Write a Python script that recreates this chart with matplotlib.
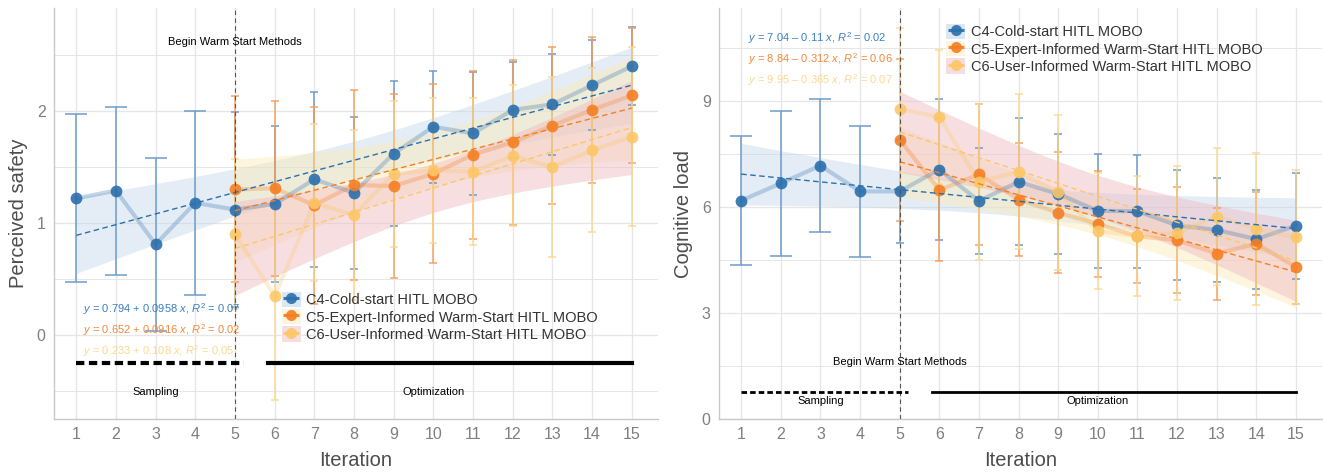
import numpy as np
import matplotlib
matplotlib.use("Agg")
import matplotlib.pyplot as plt
from matplotlib.lines import Line2D
from matplotlib.patches import Patch

plt.rcParams['font.family'] = ['Liberation Sans', 'DejaVu Sans']
plt.rcParams['mathtext.fontset'] = 'custom'
plt.rcParams['mathtext.rm'] = 'Liberation Sans'
plt.rcParams['mathtext.it'] = 'Liberation Sans:italic'

# ---------------- data ----------------
iterations = list(range(1, 16))
series_names = ["C4-Cold-start HITL MOBO",
                "C5-Expert-Informed Warm-Start HITL MOBO",
                "C6-User-Informed Warm-Start HITL MOBO"]

# Perceived safety (means and SD), C5/C6 start at iteration 5
ps_c4_mean = [1.22, 1.29, 0.81, 1.18, 1.12, 1.17, 1.39, 1.27, 1.62, 1.86, 1.80, 2.01, 2.06, 2.23, 2.40]
ps_c4_sd = [0.75, 0.75, 0.77, 0.82, 0.87, 0.70, 0.78, 0.68, 0.65, 0.50, 0.55, 0.43, 0.45, 0.40, 0.35]
ps_c5_mean = [1.30, 1.31, 1.16, 1.34, 1.33, 1.44, 1.61, 1.72, 1.87, 2.01, 2.14]
ps_c5_sd = [0.83, 0.78, 0.88, 0.85, 0.82, 0.80, 0.75, 0.74, 0.70, 0.65, 0.60]
ps_c6_mean = [0.90, 0.35, 1.18, 1.07, 1.44, 1.47, 1.46, 1.60, 1.50, 1.65, 1.77]
ps_c6_sd = [0.67, 0.93, 0.70, 0.76, 0.65, 0.65, 0.66, 0.63, 0.80, 0.73, 0.80]

# Cognitive load
cl_c4_mean = [6.18, 6.67, 7.17, 6.44, 6.44, 7.06, 6.17, 6.71, 6.37, 5.89, 5.88, 5.48, 5.35, 5.09, 5.47]
cl_c4_sd = [1.83, 2.05, 1.88, 1.85, 1.45, 2.00, 1.50, 1.80, 1.70, 1.62, 1.60, 1.56, 1.47, 1.40, 1.50]
cl_c5_mean = [7.90, 6.48, 6.92, 6.21, 5.84, 5.52, 5.17, 5.06, 4.68, 4.96, 4.30]
cl_c5_sd = [2.30, 2.00, 2.00, 1.60, 1.72, 1.50, 1.33, 1.50, 1.30, 1.45, 1.06]
cl_c6_mean = [8.77, 8.55, 6.71, 7.00, 6.41, 5.32, 5.18, 5.27, 5.73, 5.38, 5.15]
cl_c6_sd = [2.28, 1.90, 2.20, 2.20, 2.20, 1.64, 1.70, 1.90, 1.95, 2.15, 1.90]

# regression fits (intercept, slope, R2) and CI half-widths (centre, ends)
ps_fit = [(0.794, 0.0958, 0.07), (0.652, 0.0916, 0.02), (0.233, 0.108, 0.05)]
cl_fit = [(7.04, -0.11, 0.02), (8.84, -0.312, 0.06), (9.95, -0.365, 0.07)]
ps_ci_mid = [0.17, 0.24, 0.22]
ps_ci_end = [0.34, 0.46, 0.42]
cl_ci_mid = [0.42, 0.50, 0.60]
cl_ci_end = [0.87, 1.00, 1.15]

# ---------------- style ----------------
point_colors = ['#2b6fad', '#f57f23', '#fcc767']
bar_colors = ['#6f9dc9', '#f59a55', '#fcd68c']
band_colors = ['#c4d8ec', '#fbeab5', '#efbcc2']
band_alpha = [0.45, 0.45, 0.48]
legend_bg = ['#dbe7f3', '#fdf5e0', '#f6dde0']
eq_colors = ['#3b7fc0', '#f5873a', '#fbd88e']
grid_c = '#e6e6e6'

fig = plt.figure(figsize=(13.23, 4.74), dpi=100)
axL = fig.add_axes([54 / 1323, 1 - 419 / 474, 604 / 1323, 411 / 474])
axR = fig.add_axes([719 / 1323, 1 - 419 / 474, 603 / 1323, 411 / 474])


def fmt(v):
    return ('%g' % v)


def draw_panel(ax, means, sds, fits, ci_mid, ci_end, ylim, yticks, yminor, ylabel,
               eq_y, bar_y, text_y, begin_y, bar_lw, legend_xy):
    x_all = np.array(iterations)
    xs = [x_all, x_all[4:], x_all[4:]]
    ax.set_xlim(0.44, 15.66)
    ax.set_ylim(*ylim)
    ax.set_xticks(iterations)
    ax.set_yticks(yticks)
    ax.set_yticks(yminor, minor=True)
    ax.grid(True, which='major', color=grid_c, lw=0.9, zorder=0)
    ax.grid(True, which='minor', axis='y', color=grid_c, lw=0.7, zorder=0)
    ax.set_axisbelow(True)
    for s in ['top', 'right']:
        ax.spines[s].set_visible(False)
    for s in ['left', 'bottom']:
        ax.spines[s].set_color('#c8c8c8')
        ax.spines[s].set_linewidth(1.0)
    ax.tick_params(which='both', length=0, labelsize=11.5, colors='#7f7f7f', pad=6)
    ax.set_xlabel('Iteration', fontsize=14.5, color='#4d4d4d', labelpad=6)
    ax.set_ylabel(ylabel, fontsize=14.5, color='#4d4d4d', labelpad=6)

    # confidence bands
    for i in range(3):
        x = xs[i]
        a, b, r2 = fits[i]
        xfine = np.linspace(x[0], x[-1], 100)
        xc = (x[0] + x[-1]) / 2
        half = (x[-1] - x[0]) / 2
        hw = np.sqrt(ci_mid[i] ** 2 + (ci_end[i] ** 2 - ci_mid[i] ** 2) * ((xfine - xc) / half) ** 2)
        yfit = a + b * xfine
        ax.fill_between(xfine, yfit - hw, yfit + hw, color=band_colors[i], alpha=band_alpha[i],
                        lw=0, zorder=1)

    # error bars
    for i in range(3):
        x = xs[i]
        m = np.array(means[i])
        sd = np.array(sds[i])
        for j in range(len(x)):
            cap = 8 if (i == 0 and x[j] <= 4) else 3
            ax.errorbar(x[j], m[j], yerr=sd[j], color=bar_colors[i], alpha=0.75 if i else 0.85,
                        lw=1.3, capsize=cap, capthick=1.3, zorder=3, fmt='none')
    # connecting lines
    for i in range(3):
        ax.plot(xs[i], means[i], color=point_colors[i], lw=3, alpha=0.28, zorder=4,
                solid_capstyle='round')
    # points
    for i in range(3):
        ax.plot(xs[i], means[i], 'o', color=point_colors[i], ms=8.5, alpha=0.9, mec='none',
                zorder=5)
    # regression lines
    for i in range(3):
        a, b, r2 = fits[i]
        x = xs[i]
        ax.plot([x[0], x[-1]], [a + b * x[0], a + b * x[-1]], color=point_colors[i], lw=1.0,
                ls=(0, (4, 2.5)), zorder=6)
        sign = '+' if b >= 0 else '\u2013'
        eq = r'$y$ = %s %s %s $x$, $R^2$ = %s' % (fmt(a), sign, fmt(abs(b)), '%.2f' % r2)
        ax.text(1.18, eq_y[i], eq, color=eq_colors[i], fontsize=8, ha='left', va='center',
                zorder=7)

    # warm-start marker
    ax.axvline(5, color='#555555', lw=0.8, ls=(0, (4, 3)), zorder=6)
    ax.text(5, begin_y, 'Begin Warm Start Methods', fontsize=8, ha='center', va='center',
            color='black', zorder=7)
    ax.plot([1, 5.22], [bar_y, bar_y], color='black', lw=bar_lw, ls=(0, (2, 1.1)), zorder=6)
    ax.plot([5.82, 15], [bar_y, bar_y], color='black', lw=bar_lw, zorder=6)
    ax.text(3, text_y, 'Sampling', fontsize=8, ha='center', va='center', zorder=7)
    ax.text(10, text_y, 'Optimization', fontsize=8, ha='center', va='center', zorder=7)

    handles = []
    for i in range(3):
        handles.append((Patch(facecolor=legend_bg[i], edgecolor='none'),
                        Line2D([], [], color=point_colors[i], ls='none', marker='_', ms=11,
                               mew=2.2, alpha=0.9),
                        Line2D([], [], color=point_colors[i], ls='none', marker='o', ms=8,
                               mec='none', alpha=0.9)))
    leg = ax.legend(handles, series_names, loc='upper left', bbox_to_anchor=legend_xy,
                    frameon=False, fontsize=10.5, handlelength=1.3, handleheight=1.25,
                    handletextpad=0.4, labelspacing=0.12, borderpad=0, borderaxespad=0)
    for t in leg.get_texts():
        t.set_color('#333333')
    leg.set_zorder(10)


draw_panel(axL, [ps_c4_mean, ps_c5_mean, ps_c6_mean], [ps_c4_sd, ps_c5_sd, ps_c6_sd],
           ps_fit, ps_ci_mid, ps_ci_end, (-0.75, 2.92), [0, 1, 2], [-0.5, 0.5, 1.5, 2.5],
           'Perceived safety', [0.23, 0.045, -0.14], -0.25, -0.51, 2.62, 3.0, (0.377, 0.31))
draw_panel(axR, [cl_c4_mean, cl_c5_mean, cl_c6_mean], [cl_c4_sd, cl_c5_sd, cl_c6_sd],
           cl_fit, cl_ci_mid, cl_ci_end, (0, 11.63), [0, 3, 6, 9], [1.5, 4.5, 7.5, 10.5],
           'Cognitive load', [10.78, 10.19, 9.6], 0.76, 0.5, 1.6, 2.0, (0.377, 0.962))

fig.savefig('out.png', dpi=100)
